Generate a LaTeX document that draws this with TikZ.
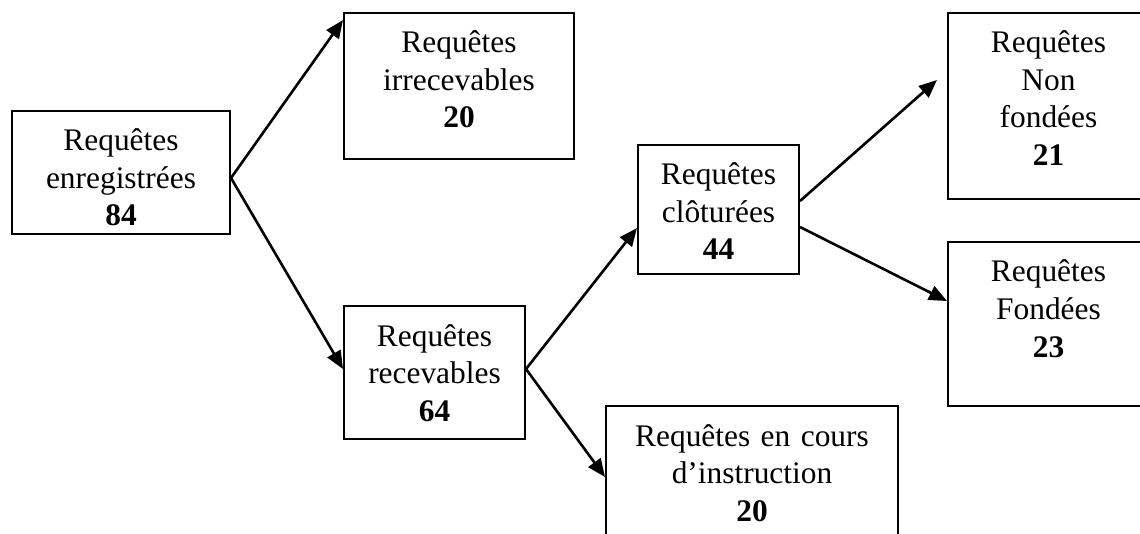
\documentclass[tikz,border=0pt]{standalone}
\usepackage{fontspec}
\setmainfont{Liberation Serif}
\usetikzlibrary{arrows.meta}

\begin{document}
\begin{tikzpicture}[x=0.5pt, y=-0.5pt, font=\fontsize{15.7pt}{18.75pt}\selectfont,
  >={Triangle[length=9pt, width=7.5pt]},
  box/.style={draw, line width=1pt, inner sep=0pt, align=center, anchor=north west, text height=20pt},
  flow/.style={->, line width=1.3pt}]
\useasboundingbox (0,0) rectangle (1140,534);
\clip (0,0) rectangle (1140,534);
% first split: registered requests
\node[box, text width=109pt, text depth=41.5pt] (enreg) at (11,110) {Requêtes\\enregistrées\\\textbf{84}};
\node[box, text width=115pt, text depth=53pt] (irrec) at (343,12) {Requêtes\\irrecevables\\\textbf{20}};
\node[box, text width=90.5pt, text depth=46.5pt] (recev) at (343,305) {Requêtes\\recevables\\\textbf{64}};
% second split: admissible requests
\node[box, text width=80.5pt, text depth=44.5pt] (clot) at (637,144) {Requêtes\\clôturées\\\textbf{44}};
\node[box, text width=146pt, text depth=55pt] (cours) at (605,405) {Requêtes en cours\\d’instruction\\\textbf{20}};
% closed requests (right column, cut at the page edge)
\node[box, text width=100.5pt, text depth=73pt] (nonfond) at (947,12) {Requêtes\\Non\\fondées\\\textbf{21}};
\node[box, text width=100.5pt, text depth=62pt] (fond) at (947,241) {Requêtes\\Fondées\\\textbf{23}};
% arrows
\draw[flow] ([yshift=-2.75pt]enreg.east) -- ([yshift=-4pt]irrec.north west);
\draw[flow] ([yshift=-2.75pt]enreg.east) -- ([yshift=1.75pt]recev.west);
\draw[flow] ([yshift=1.75pt]recev.east) -- ([yshift=-9.25pt]clot.west);
\draw[flow] ([yshift=1.75pt]recev.east) -- ([yshift=-36pt]cours.north west);
\draw[flow] ([yshift=4.25pt]clot.east) -- ([xshift=-5pt, yshift=-34pt]nonfond.north west);
\draw[flow] ([yshift=-8.75pt]clot.east) -- ([yshift=11.5pt]fond.west);
\end{tikzpicture}
\end{document}
